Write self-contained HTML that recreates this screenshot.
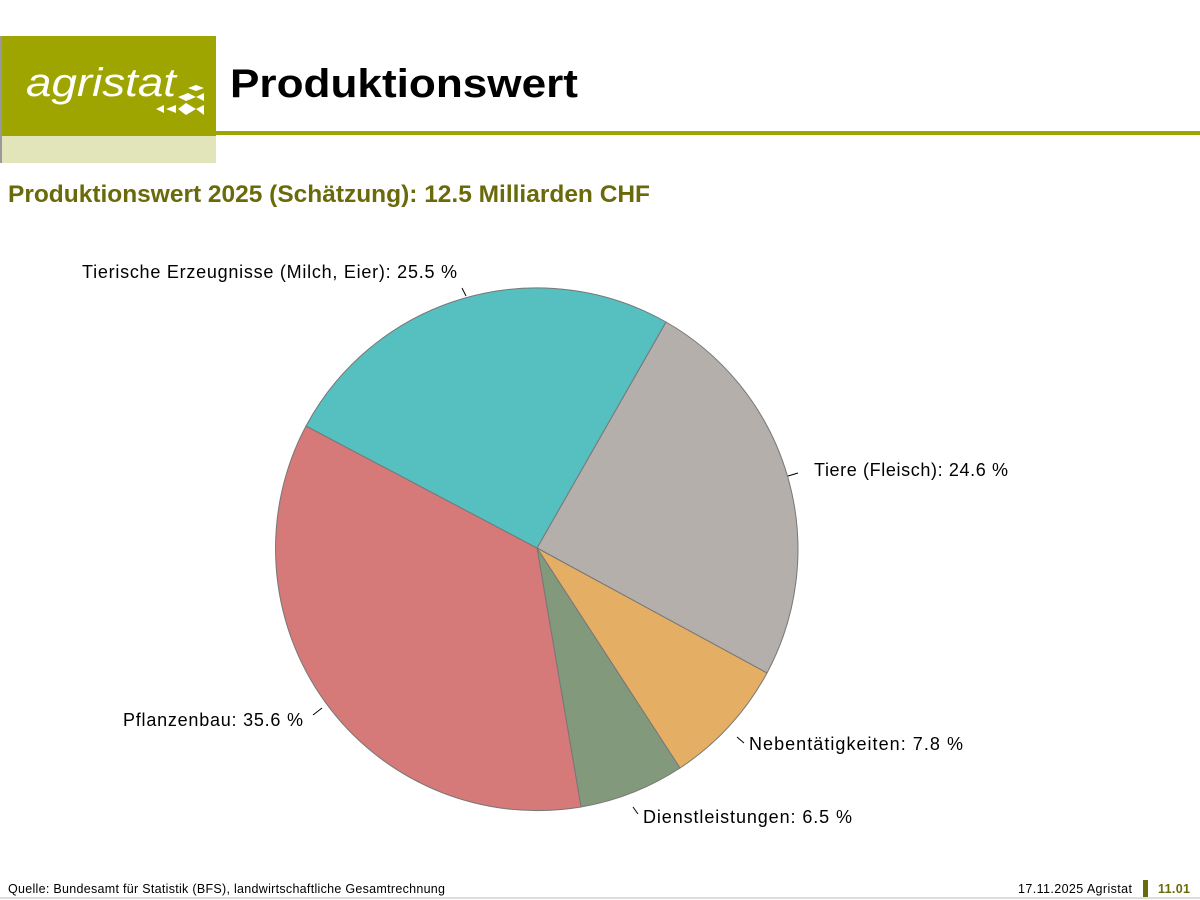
<!DOCTYPE html>
<html><head><meta charset="utf-8"><style>
body{margin:0;width:1200px;height:900px;background:#fff;font-family:"Liberation Sans",sans-serif;position:relative;overflow:hidden}
.a{position:absolute}
</style></head><body>
<div class="a" style="left:0;top:36px;width:216px;height:100px;background:#9ea400"></div>
<div class="a" style="left:0;top:136px;width:216px;height:27px;background:#e2e4b9"></div>
<div class="a" style="left:216px;top:131px;width:984px;height:4px;background:#9ea400"></div>
<div class="a" style="left:0;top:36px;width:2px;height:127px;background:#999"></div>
<svg class="a" style="left:0;top:0" width="1200" height="900" font-family="Liberation Sans, sans-serif" font-size="18">
<text x="26" y="96" font-size="40" font-style="italic" fill="#fff" textLength="150" lengthAdjust="spacingAndGlyphs">agristat</text>
<g fill="#fff" transform="translate(150,85)">
<polygon points="38,3 46,0 54,3 46,6"/><polygon points="28,12 38,8 46,12 36,16"/><polygon points="46,12 54,8 54,16"/>
<polygon points="6,24 14,20 14,28"/><polygon points="16,24 26,20 26,28"/><polygon points="28,24 36,18 46,24 36,30"/><polygon points="46,24 54,20 54,30"/></g>
<text x="230" y="97" font-size="40" font-weight="bold" fill="#000" textLength="348" lengthAdjust="spacingAndGlyphs">Produktionswert</text>
<text x="8" y="202" font-size="24" font-weight="bold" fill="#6a6a0a" textLength="642" lengthAdjust="spacingAndGlyphs">Produktionswert 2025 (Schätzung): 12.5 Milliarden CHF</text>
<g stroke="#777" stroke-width="1">
<path d="M537,548 L666,322 A262,262 0 0 1 767,673 Z" fill="#b5afab"/>
<path d="M537,548 L767,673 A262,262 0 0 1 680,768 Z" fill="#e4af65"/>
<path d="M537,548 L680,768 A262,262 0 0 1 581,807 Z" fill="#82997c"/>
<path d="M537,548 L581,807 A262,262 0 0 1 306,426 Z" fill="#d57a79"/>
<path d="M537,548 L306,426 A262,262 0 0 1 666,322 Z" fill="#56bfc0"/>
</g>
<g stroke="#000" stroke-width="1">
<line x1="462" y1="288" x2="466" y2="296"/><line x1="788" y1="476" x2="798" y2="473"/>
<line x1="737" y1="737" x2="744" y2="743"/><line x1="633" y1="807" x2="638" y2="814"/>
<line x1="313" y1="715" x2="322" y2="708"/>
</g>
<g fill="#000" lengthAdjust="spacingAndGlyphs">
<text x="82" y="278" textLength="375">Tierische Erzeugnisse (Milch, Eier): 25.5 %</text>
<text x="814" y="476" textLength="194">Tiere (Fleisch): 24.6 %</text>
<text x="749" y="750" textLength="214">Nebentätigkeiten: 7.8 %</text>
<text x="643" y="823" textLength="209">Dienstleistungen: 6.5 %</text>
<text x="123" y="726" textLength="180">Pflanzenbau: 35.6 %</text>
</g>
<g font-size="12.5" fill="#000">
<text x="8" y="893" textLength="437">Quelle: Bundesamt für Statistik (BFS), landwirtschaftliche Gesamtrechnung</text>
<text x="1018" y="893" textLength="114">17.11.2025 Agristat</text>
<text x="1158" y="893" fill="#6a6a0a" font-weight="bold" textLength="32">11.01</text>
</g>
<rect x="1143" y="880" width="5" height="17" fill="#6a6a0a"/>
<line x1="0" y1="898" x2="1200" y2="898" stroke="#bbb"/>
</svg>
</body></html>
